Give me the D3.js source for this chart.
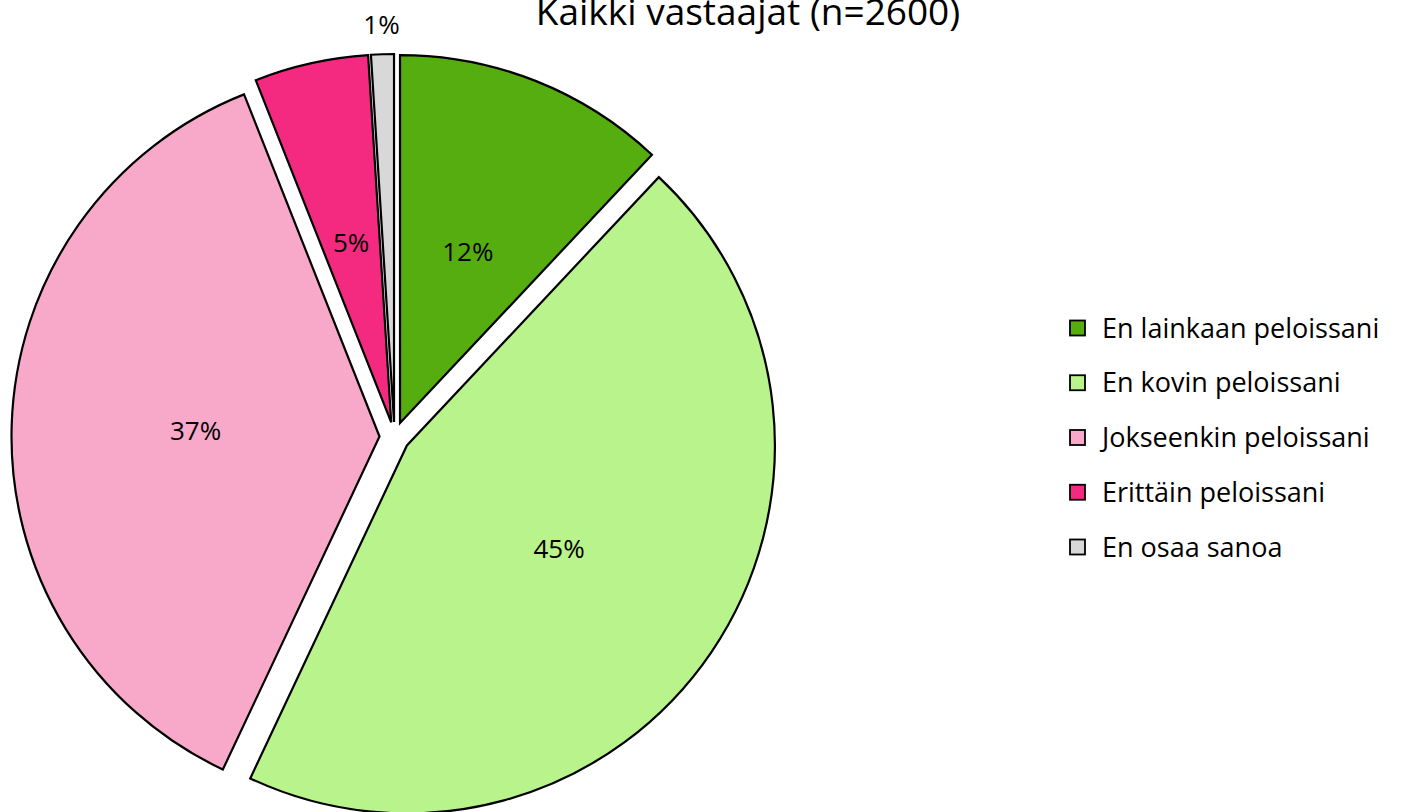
<!DOCTYPE html>
<html>
<head>
<meta charset="utf-8">
<script src="https://cdn.jsdelivr.net/npm/d3@7"></script>
<style>
  html, body { margin: 0; padding: 0; background: #fff; }
  svg { display: block; font-family: "Open Sans", Lato, sans-serif; }
</style>
</head>
<body>
<div id="chart"></div>
<script>
(function () {

  // ── Data ────────────────────────────────────────────────────────────────
  var TITLE = "Kaikki vastaajat (n=2600)";
  var CATEGORIES = [
    "En lainkaan peloissani",
    "En kovin peloissani",
    "Jokseenkin peloissani",
    "Erittäin peloissani",
    "En osaa sanoa"
  ];
  var VALUES = [12, 45, 37, 5, 1];
  var COLORS = ["#56ad0f", "#b9f38b", "#f8a9ca", "#f42a80", "#d8d8d8"];

  var W = 1403, H = 812;
  var CX = 394.5, CY = 437, R = 368, EXPLODE = 15;

  var svg = d3.select("#chart").append("svg")
    .attr("width", W)
    .attr("height", H);

  var rows = CATEGORIES.map(function (c, i) {
    return { name: c, value: VALUES[i], color: COLORS[i] };
  });

  var pie = d3.pie()
    .sort(null)
    .value(function (d) { return d.value; })
    .startAngle(0)
    .endAngle(2 * Math.PI);

  var arc = d3.arc().innerRadius(0).outerRadius(R);
  var total = d3.sum(VALUES);

  var slices = pie(rows);

  function offset(d, dist) {
    var a = (d.startAngle + d.endAngle) / 2;
    return [Math.sin(a) * dist, -Math.cos(a) * dist];
  }

  var g = svg.append("g").attr("transform", "translate(" + CX + "," + CY + ")");

  // ── Slices ─────────────────────────────────────────────────────────────
  g.selectAll("path.slice")
    .data(slices)
    .join("path")
    .attr("class", "slice")
    .attr("d", arc)
    .attr("transform", function (d) {
      var o = offset(d, EXPLODE);
      return "translate(" + o[0] + "," + o[1] + ")";
    })
    .attr("fill", function (d) { return d.data.color; })
    .attr("stroke", "#000")
    .attr("stroke-width", 2.2)
    .attr("stroke-linejoin", "miter");

  // ── Labels ─────────────────────────────────────────────────────────────
  g.selectAll("text.lbl")
    .data(slices)
    .join("text")
    .attr("class", "lbl")
    .attr("transform", function (d) {
      var o = offset(d, EXPLODE);
      var share = d.data.value / total;
      var l = share < 0.03 ? offset(d, R + 45) : offset(d, R * 0.5);
      if (share < 0.03) return "translate(" + l[0] + "," + l[1] + ")";
      return "translate(" + (o[0] + l[0]) + "," + (o[1] + l[1]) + ")";
    })
    .attr("text-anchor", "middle")
    .attr("dy", "0.36em")
    .attr("font-size", "26px")
    .attr("fill", "#000")
    .text(function (d) { return Math.round(d.data.value / total * 100) + "%"; });

  // ── Title ──────────────────────────────────────────────────────────────
  svg.append("text")
    .attr("x", 748)
    .attr("y", 25)
    .attr("text-anchor", "middle")
    .attr("font-size", "37px")
    .attr("fill", "#000")
    .text(TITLE);

  // ── Legend ─────────────────────────────────────────────────────────────
  var legendY = d3.scalePoint()
    .domain(CATEGORIES)
    .range([328, 547]);

  var lg = svg.append("g").attr("class", "legend");
  var item = lg.selectAll("g")
    .data(rows)
    .join("g")
    .attr("transform", function (d) { return "translate(1070," + legendY(d.name) + ")"; });

  item.append("rect")
    .attr("x", 0).attr("y", -7.5)
    .attr("width", 15).attr("height", 15)
    .attr("fill", function (d) { return d.color; })
    .attr("stroke", "#000")
    .attr("stroke-width", 1.8);

  item.append("text")
    .attr("x", 32)
    .attr("dy", "0.36em")
    .attr("font-size", "27px")
    .attr("fill", "#000")
    .text(function (d) { return d.name; });

})();
</script>
</body>
</html>
